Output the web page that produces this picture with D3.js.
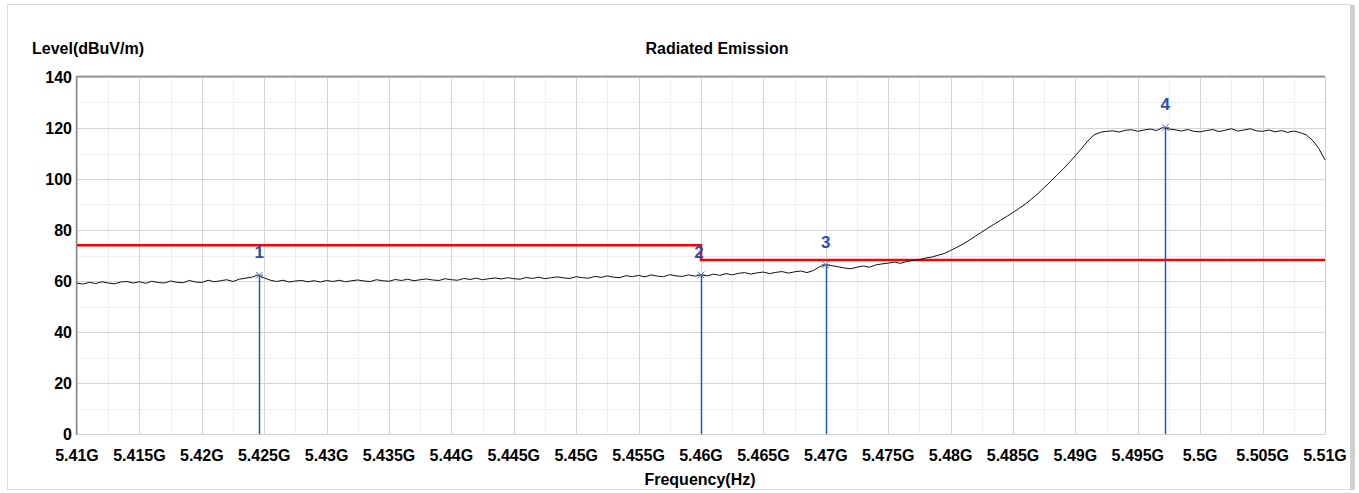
<!DOCTYPE html>
<html lang="en">
	<head>
		<meta charset="utf-8">
		<title>Radiated Emission</title>
		<script type="text/javascript" src="https://cdn.jsdelivr.net/npm/d3@7"></script>
		<style type="text/css">
			body { margin: 0; background: #fff; }
			text { font-family: "Liberation Sans", Arial, sans-serif; font-weight: bold; font-size: 16px; fill: #000; }
		</style>
	</head>
	<body>
		<script type="text/javascript">
			//Trace: level in dBuV/m, one value every 0.0005 GHz from 5.410G to 5.510G
			var startFreq = 5.41;
			var stepFreq = 0.0005;
			var levels = [
				59.2, 58.8, 59.5, 59.0, 59.7, 59.2, 58.9, 59.6, 59.8, 59.2,
				59.7, 59.1, 59.9, 59.4, 59.2, 60.0, 59.5, 59.3, 60.2, 59.6,
				59.4, 60.3, 59.7, 60.1, 60.5, 59.8, 60.7, 61.1, 61.5, 62.3,
				61.2, 60.3, 59.8, 60.3, 59.6, 60.0, 60.2, 59.7, 60.1, 59.6,
				60.2, 59.8, 60.3, 59.7, 60.1, 60.4, 60.0, 59.8, 60.5, 60.1,
				59.9, 60.6, 60.2, 60.7, 60.1, 60.5, 60.8, 60.4, 60.2, 60.9,
				60.5, 60.3, 61.0, 60.6, 61.1, 60.5, 60.9, 61.2, 60.8, 61.3,
				60.9, 60.7, 61.4, 61.0, 61.5, 60.9, 61.3, 61.6, 61.2, 61.0,
				61.7, 61.3, 61.1, 61.8, 61.4, 62.0, 61.5, 61.3, 62.1, 61.7,
				62.2, 61.6, 62.4, 61.9, 61.7, 62.5, 62.0, 61.8, 62.4, 61.9,
				62.4, 62.0, 62.7, 62.2, 62.9, 62.4, 63.0, 63.3, 62.7, 63.2,
				63.5, 62.9, 63.4, 63.7, 63.1, 63.6, 63.9, 63.3, 64.1, 65.6,
				66.4, 66.0, 65.6, 65.1, 64.8, 65.4, 65.9, 65.4, 66.3, 66.7,
				67.0, 67.4, 66.9, 67.7, 68.1, 68.4, 69.0, 69.4, 70.1, 70.8,
				72.0, 73.2, 74.5, 76.0, 77.6, 79.2, 80.8, 82.3, 83.8, 85.3,
				86.9, 88.5, 90.2, 92.2, 94.3, 96.6, 99.0, 101.4, 103.8, 106.4,
				109.2, 112.0, 115.0, 117.3, 118.3, 118.7, 118.9, 118.4, 119.1, 119.3,
				118.7, 119.2, 119.6, 119.0, 120.2, 119.6, 119.3, 118.8, 119.4, 118.7,
				118.5, 119.0, 119.4, 118.6, 119.1, 119.7, 118.8, 119.2, 119.7, 118.9,
				118.7, 119.2, 118.5, 119.0, 118.3, 118.8, 118.2, 117.3, 115.2, 112.0,
				107.5
			];

			//Limit line segments
			var limitFreqs = [5.41, 5.46, 5.46, 5.51];
			var limitLevels = [74, 74, 68.2, 68.2];

			//Markers
			var markerIds = ["1", "2", "3", "4"];
			var markerFreqs = [5.4246, 5.46, 5.47, 5.4972];
			var markerLevels = [62.3, 62.4, 66.4, 120.2];

			//Axes
			var xTicks = [5.41, 5.415, 5.42, 5.425, 5.43, 5.435, 5.44, 5.445, 5.45, 5.455, 5.46,
						  5.465, 5.47, 5.475, 5.48, 5.485, 5.49, 5.495, 5.5, 5.505, 5.51];
			var xTickLabels = ["5.41G", "5.415G", "5.42G", "5.425G", "5.43G", "5.435G", "5.44G", "5.445G",
							   "5.45G", "5.455G", "5.46G", "5.465G", "5.47G", "5.475G", "5.48G", "5.485G",
							   "5.49G", "5.495G", "5.5G", "5.505G", "5.51G"];
			var yTicks = [0, 20, 40, 60, 80, 100, 120, 140];

			var w = 1359;
			var h = 493;
			var plotL = 77, plotR = 1325, plotT = 77, plotB = 434;

			var xScale = d3.scaleLinear().domain([5.41, 5.51]).range([plotL, plotR]);
			var yScale = d3.scaleLinear().domain([0, 140]).range([plotB, plotT]);

			var svg = d3.select("body")
						.append("svg")
						.attr("width", w)
						.attr("height", h);

			//Outer panel
			svg.append("rect")
			   .attr("x", 7.5).attr("y", 4.5)
			   .attr("width", 1343).attr("height", 485)
			   .attr("fill", "#fff")
			   .attr("stroke", "#dcdcdc");
			svg.append("rect")
			   .attr("x", 1350).attr("y", 5)
			   .attr("width", 5).attr("height", 485)
			   .attr("fill", "#cfcfcf");

			//Minor grid
			var minorX = d3.range(xTicks.length - 1).map(function(i) { return (xTicks[i] + xTicks[i + 1]) / 2; });
			var minorY = d3.range(yTicks.length - 1).map(function(i) { return yTicks[i] + 10; });
			svg.append("g").selectAll("line")
			   .data(minorX)
			   .enter().append("line")
			   .attr("x1", function(d) { return Math.round(xScale(d)) + 0.5; })
			   .attr("x2", function(d) { return Math.round(xScale(d)) + 0.5; })
			   .attr("y1", plotT).attr("y2", plotB)
			   .attr("stroke", "#efefef");
			svg.append("g").selectAll("line")
			   .data(minorY)
			   .enter().append("line")
			   .attr("x1", plotL).attr("x2", plotR)
			   .attr("y1", function(d) { return Math.round(yScale(d)) + 0.5; })
			   .attr("y2", function(d) { return Math.round(yScale(d)) + 0.5; })
			   .attr("stroke", "#efefef");

			//Major grid
			svg.append("g").selectAll("line")
			   .data(xTicks)
			   .enter().append("line")
			   .attr("x1", function(d) { return Math.round(xScale(d)) + 0.5; })
			   .attr("x2", function(d) { return Math.round(xScale(d)) + 0.5; })
			   .attr("y1", plotT).attr("y2", plotB)
			   .attr("stroke", "#d6d6d6");
			svg.append("g").selectAll("line")
			   .data(yTicks)
			   .enter().append("line")
			   .attr("x1", plotL).attr("x2", plotR)
			   .attr("y1", function(d) { return Math.round(yScale(d)) + 0.5; })
			   .attr("y2", function(d) { return Math.round(yScale(d)) + 0.5; })
			   .attr("stroke", "#d6d6d6");

			//Plot frame
			svg.append("line").attr("x1", plotL).attr("x2", plotR).attr("y1", plotT - 0.5).attr("y2", plotT - 0.5)
			   .attr("stroke", "#9a9a9a").attr("stroke-width", 2);
			svg.append("line").attr("x1", plotL - 0.5).attr("x2", plotL - 0.5).attr("y1", plotT - 1).attr("y2", plotB + 1)
			   .attr("stroke", "#8a8a8a").attr("stroke-width", 1.5);
			svg.append("line").attr("x1", plotR + 0.5).attr("x2", plotR + 0.5).attr("y1", plotT).attr("y2", plotB)
			   .attr("stroke", "#cfcfcf");
			svg.append("line").attr("x1", plotL).attr("x2", plotR).attr("y1", plotB + 0.5).attr("y2", plotB + 0.5)
			   .attr("stroke", "#cfcfcf");

			//Tick labels
			svg.append("g").selectAll("text")
			   .data(xTicks)
			   .enter().append("text")
			   .attr("x", function(d) { return xScale(d); })
			   .attr("y", 461)
			   .attr("text-anchor", "middle")
			   .text(function(d, i) { return xTickLabels[i]; });
			svg.append("g").selectAll("text")
			   .data(yTicks)
			   .enter().append("text")
			   .attr("x", 72)
			   .attr("y", function(d) { return yScale(d) + 6; })
			   .attr("text-anchor", "end")
			   .text(function(d) { return d; });

			//Titles
			svg.append("text").attr("x", 32).attr("y", 54).text("Level(dBuV/m)");
			svg.append("text").attr("x", 717).attr("y", 54).attr("text-anchor", "middle").text("Radiated Emission");
			svg.append("text").attr("x", 700).attr("y", 485).attr("text-anchor", "middle").text("Frequency(Hz)");

			//Limit line
			var limitLine = d3.line()
							  .x(function(d, i) { return xScale(limitFreqs[i]); })
							  .y(function(d) { return yScale(d); });
			svg.append("path")
			   .attr("d", limitLine(limitLevels))
			   .attr("fill", "none")
			   .attr("stroke", "#ff0000")
			   .attr("stroke-width", 2.5);

			//Marker lines
			svg.append("g").selectAll("line")
			   .data(markerLevels)
			   .enter().append("line")
			   .attr("x1", function(d, i) { return Math.round(xScale(markerFreqs[i])) + 0.5; })
			   .attr("x2", function(d, i) { return Math.round(xScale(markerFreqs[i])) + 0.5; })
			   .attr("y1", function(d) { return yScale(d); })
			   .attr("y2", plotB)
			   .attr("stroke", "#1c58c8")
			   .attr("stroke-width", 1.5);

			//Trace
			var trace = d3.line()
						  .x(function(d, i) { return xScale(startFreq + i * stepFreq); })
						  .y(function(d) { return yScale(d); });
			svg.append("path")
			   .attr("d", trace(levels))
			   .attr("fill", "none")
			   .attr("stroke", "#111")
			   .attr("stroke-width", 1);

			//Marker stars and labels
			var star = d3.symbol().type(d3.symbolX).size(30);
			var marks = svg.append("g").selectAll("g")
			   .data(markerLevels)
			   .enter().append("g")
			   .attr("transform", function(d, i) {
			   		return "translate(" + xScale(markerFreqs[i]) + "," + yScale(d) + ")";
			   });
			marks.append("path")
			   .attr("d", star)
			   .attr("fill", "none")
			   .attr("stroke", "#5a6fa8")
			   .attr("stroke-width", 1);
			marks.append("line")
			   .attr("x1", -4).attr("x2", 4)
			   .attr("stroke", "#5a6fa8");
			marks.append("text")
			   .attr("x", function(d, i) { return i === 1 ? -2 : 0; })
			   .attr("y", -17)
			   .attr("text-anchor", "middle")
			   .style("fill", "#2c4fb4")
			   .style("font-size", "17px")
			   .text(function(d, i) { return markerIds[i]; });
		</script>
	</body>
</html>
